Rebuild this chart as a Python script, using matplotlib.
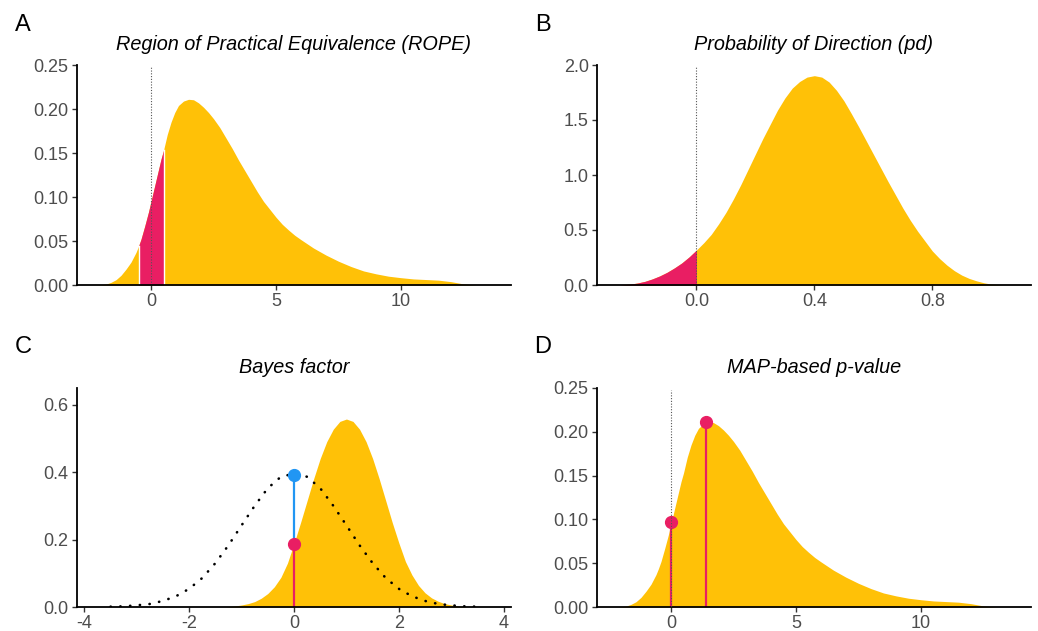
import numpy as np
import matplotlib.pyplot as plt

plt.rcParams['font.family'] = ['Liberation Sans', 'DejaVu Sans']
plt.rcParams['axes.unicode_minus'] = False

yellow = '#FFC107'
pink = '#E91E63'
blue = '#2196F3'

# posterior used in panels A and D
post_x = [-2.2, -2.0, -1.8, -1.6, -1.4, -1.2, -1.0, -0.8, -0.6, -0.5, -0.4, -0.25, -0.1, 0.0,
          0.1, 0.25, 0.4, 0.5, 0.65, 0.8, 0.95, 1.1, 1.3, 1.5, 1.7, 1.9, 2.1, 2.3, 2.5, 2.75,
          3.0, 3.25, 3.5, 3.75, 4.0, 4.25, 4.5, 4.75, 5.0, 5.25, 5.5, 5.75, 6.0, 6.5, 7.0,
          7.5, 8.0, 8.5, 9.0, 9.5, 10.0, 10.5, 11.0, 11.5, 12.0, 12.5, 13.0]
post_y = [0.0, 0.0003, 0.001, 0.003, 0.006, 0.011, 0.018, 0.026, 0.037, 0.044, 0.052, 0.067,
          0.083, 0.095, 0.107, 0.125, 0.143, 0.153, 0.171, 0.185, 0.196, 0.204, 0.209, 0.211,
          0.2105, 0.207, 0.202, 0.196, 0.189, 0.179, 0.167, 0.155, 0.142, 0.130, 0.118, 0.106,
          0.095, 0.086, 0.077, 0.069, 0.0625, 0.0565, 0.0515, 0.042, 0.034, 0.027, 0.021, 0.016,
          0.0127, 0.010, 0.0083, 0.0069, 0.0062, 0.0055, 0.0038, 0.0012, 0.0]
rope = [-0.5, 0.5]

# panel B posterior
pd_x = [-0.26, -0.225, -0.2, -0.175, -0.15, -0.125, -0.1, -0.075, -0.05, -0.025, 0.0, 0.025,
        0.05, 0.075, 0.1, 0.125, 0.15, 0.175, 0.2, 0.225, 0.25, 0.275, 0.3, 0.325, 0.35,
        0.375, 0.4, 0.425, 0.45, 0.475, 0.5, 0.525, 0.55, 0.575, 0.6, 0.625, 0.65, 0.675,
        0.7, 0.725, 0.75, 0.775, 0.8, 0.825, 0.85, 0.875, 0.9, 0.925, 0.95, 0.975, 1.0, 1.04]
pd_y = [0.0, 0.008, 0.018, 0.033, 0.055, 0.082, 0.115, 0.155, 0.2, 0.255, 0.318, 0.385,
        0.46, 0.555, 0.66, 0.78, 0.91, 1.05, 1.19, 1.33, 1.46, 1.59, 1.70, 1.79, 1.85,
        1.89, 1.903, 1.89, 1.845, 1.77, 1.675, 1.56, 1.44, 1.315, 1.19, 1.065, 0.94, 0.82,
        0.70, 0.59, 0.49, 0.40, 0.31, 0.24, 0.18, 0.13, 0.09, 0.06, 0.038, 0.02, 0.008, 0.0]

# panel C posterior and prior
bf_x = [-1.3, -1.125, -1.0, -0.875, -0.75, -0.625, -0.5, -0.375, -0.25, -0.125, 0.0, 0.125,
        0.25, 0.375, 0.5, 0.625, 0.75, 0.875, 1.0, 1.125, 1.25, 1.375, 1.5, 1.625, 1.75,
        1.875, 2.0, 2.125, 2.25, 2.375, 2.5, 2.625, 2.75, 2.875, 3.0, 3.15, 3.3]
bf_y = [0.0, 0.003, 0.006, 0.01, 0.016, 0.026, 0.04, 0.06, 0.088, 0.13, 0.188, 0.25, 0.315,
        0.38, 0.44, 0.49, 0.527, 0.55, 0.557, 0.55, 0.527, 0.49, 0.44, 0.38, 0.315, 0.25,
        0.19, 0.135, 0.095, 0.064, 0.042, 0.027, 0.017, 0.01, 0.006, 0.002, 0.0]
prior_x = [-3.5, -3.25, -3.0, -2.75, -2.5, -2.25, -2.0, -1.75, -1.5, -1.25, -1.0, -0.75, -0.5,
           -0.25, 0.0, 0.25, 0.5, 0.75, 1.0, 1.25, 1.5, 1.75, 2.0, 2.25, 2.5, 2.75, 3.0,
           3.25, 3.5]
prior_y = [0.001, 0.002, 0.005, 0.009, 0.018, 0.032, 0.054, 0.086, 0.13, 0.183, 0.242, 0.30,
           0.352, 0.386, 0.395, 0.386, 0.352, 0.30, 0.242, 0.183, 0.13, 0.086, 0.054, 0.032,
           0.018, 0.009, 0.005, 0.002, 0.001]
bf_post_at0 = 0.188
bf_prior_at0 = 0.39

# panel D points
map_x = 1.39
map_y = 0.211
null_y = 0.0975

post_x = np.array(post_x)
post_y = np.array(post_y)
pd_x = np.array(pd_x)
pd_y = np.array(pd_y)


def style(ax, xlim, ylim, xticks, yticks, xfmt, yfmt):
    ax.set_xlim(*xlim)
    ax.set_ylim(*ylim)
    ax.set_xticks(xticks)
    ax.set_xticklabels([xfmt.format(v) for v in xticks])
    ax.set_yticks(yticks)
    ax.set_yticklabels([yfmt.format(v) for v in yticks])
    for s in ['top', 'right']:
        ax.spines[s].set_visible(False)
    for s in ['left', 'bottom']:
        ax.spines[s].set_linewidth(1.3)
        ax.spines[s].set_color('black')
    ax.tick_params(direction='out', length=3.5, width=1, color='#333333',
                   labelcolor='#4D4D4D', labelsize=13, pad=2.5)


fig = plt.figure(figsize=(10.38, 6.31), dpi=100)
W, H = 1038, 631


def add_ax(left, right, top, bottom):
    return fig.add_axes([left / W, 1 - bottom / H, (right - left) / W, (bottom - top) / H])


axA = add_ax(77, 511, 65, 285)
axB = add_ax(597, 1031, 65, 285)
axC = add_ax(77, 511, 388, 607)
axD = add_ax(597, 1031, 388, 607)

title_kw = dict(fontsize=14.3, style='italic', pad=11)
dotted = dict(color='#555555', lw=0.8, ls=(0, (1, 1.5)))

# A: ROPE
axA.fill_between(post_x, post_y, color=yellow, lw=0)
m = (post_x >= rope[0]) & (post_x <= rope[1])
axA.fill_between(post_x[m], post_y[m], color=pink, lw=0)
for r in rope:
    axA.plot([r, r], [0, np.interp(r, post_x, post_y)], color='white', lw=1)
axA.plot([0, 0], [0, 0.248], **dotted)
style(axA, (-2.96, 14.4), (0, 0.25), [0, 5, 10], [0, 0.05, 0.1, 0.15, 0.2, 0.25], '{:g}', '{:.2f}')
axA.set_title('Region of Practical Equivalence (ROPE)', **title_kw)

# B: pd
axB.fill_between(pd_x, pd_y, color=yellow, lw=0)
m = pd_x <= 0
axB.fill_between(pd_x[m], pd_y[m], color=pink, lw=0)
axB.plot([0, 0], [0, 1.98], **dotted)
style(axB, (-0.3375, 1.135), (0, 2.0), [0, 0.4, 0.8], [0, 0.5, 1.0, 1.5, 2.0], '{:.1f}', '{:.1f}')
axB.set_title('Probability of Direction (pd)', **title_kw)

# C: Bayes factor
axC.fill_between(bf_x, bf_y, color=yellow, lw=0)
axC.plot(prior_x, prior_y, color='black', lw=1.9, ls=(0, (0.1, 3.6)), dash_capstyle='round')
axC.plot([0, 0], [bf_post_at0, bf_prior_at0], color=blue, lw=1.6)
axC.plot([0, 0], [0, bf_post_at0], color=pink, lw=1.6)
axC.plot(0, bf_prior_at0, 'o', color=blue, ms=8.5)
axC.plot(0, bf_post_at0, 'o', color=pink, ms=8.5)
style(axC, (-4.14, 4.14), (0, 0.649), [-4, -2, 0, 2, 4], [0, 0.2, 0.4, 0.6], '{:g}', '{:.1f}')
axC.set_title('Bayes factor', **title_kw)

# D: MAP-based p-value
axD.fill_between(post_x, post_y, color=yellow, lw=0)
axD.plot([map_x, map_x], [0, map_y], color=pink, lw=1.6)
axD.plot([0, 0], [0, null_y], color=pink, lw=1.6)
axD.plot([0, 0], [0, 0.248], zorder=4, **dotted)
axD.plot(map_x, map_y, 'o', color=pink, ms=8.5)
axD.plot(0, null_y, 'o', color=pink, ms=8.5)
style(axD, (-2.96, 14.4), (0, 0.25), [0, 5, 10], [0, 0.05, 0.1, 0.15, 0.2, 0.25], '{:g}', '{:.2f}')
axD.set_title('MAP-based p-value', **title_kw)

for lab, x, y in [('A', 23, 25), ('B', 543, 25), ('C', 23, 347), ('D', 543, 347)]:
    fig.text(x / W, 1 - y / H, lab, fontsize=17, ha='center', va='center')

fig.savefig('out.png', dpi=100)
